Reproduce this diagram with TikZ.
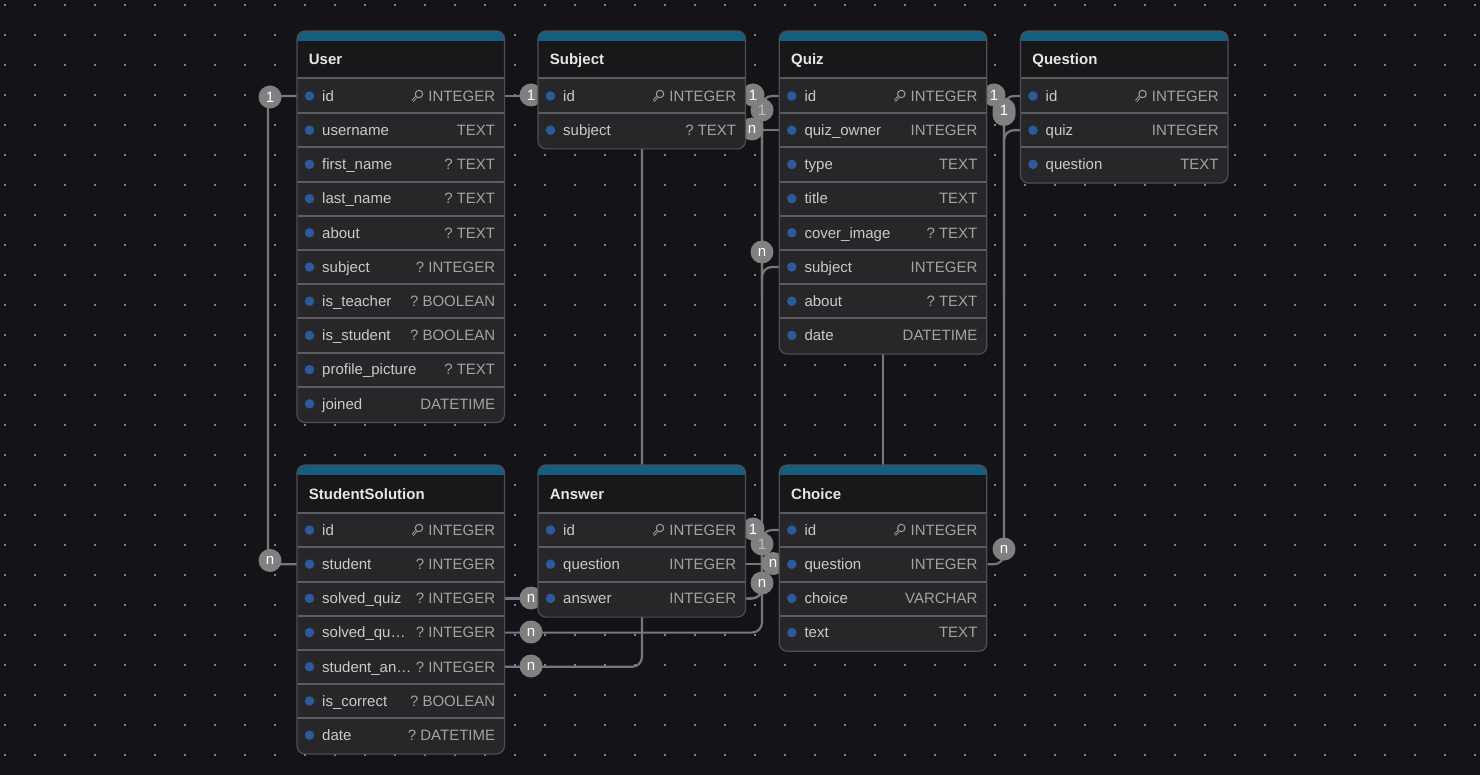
\documentclass[tikz,border=0pt]{standalone}
\usepackage{fontspec}
\setmainfont{Liberation Sans}
\frenchspacing
\pgfdeclarelayer{pagelayer}
\pgfdeclarelayer{edgelayer}
\pgfsetlayers{pagelayer,edgelayer,main}
\definecolor{pagebg}{HTML}{131318}
\definecolor{griddot}{HTML}{5B8DB5}
\definecolor{rowbg}{HTML}{27272A}
\definecolor{titlebg}{HTML}{18181B}
\definecolor{headbg}{HTML}{165E7E}
\definecolor{framec}{HTML}{4E4E53}
\definecolor{sepc}{HTML}{5C5C61}
\definecolor{dotc}{HTML}{2D5A9A}
\definecolor{namec}{HTML}{CACACC}
\definecolor{typec}{HTML}{A3A3A6}
\definecolor{edgec}{HTML}{77777A}
\definecolor{markc}{HTML}{808080}
\definecolor{titlec}{HTML}{E6E6E6}
\definecolor{markfaint}{HTML}{BDBDBD}
\tikzset{
  tablerow/.style={rectangle,inner sep=0pt,minimum width=208pt,minimum height=34.2pt,fill=rowbg},
  tablehead/.style={rectangle,inner sep=0pt,minimum width=208pt,minimum height=10pt,fill=headbg},
  rowdot/.style={circle,inner sep=0pt,minimum size=9.5pt,fill=dotc},
  rowname/.style={anchor=base west,inner sep=0pt,text=namec,font=\fontsize{15}{18}\selectfont},
  rowtype/.style={anchor=base east,inner sep=0pt,text=typec,font=\fontsize{15}{18}\selectfont},
  tabletitle/.style={anchor=base west,inner sep=0pt,text=titlec,font=\fontsize{15}{18}\selectfont\bfseries},
  sepline/.style={draw=sepc,line width=2pt},
  framebox/.style={draw=framec,line width=1.2pt,rounded corners=8pt},
  edgeline/.style={draw=edgec,line width=2.2pt,rounded corners=10pt},
  cardmark/.style={circle,inner sep=0pt,minimum size=23pt,fill=markc,text=white,font=\fontsize{15}{18}\selectfont},
  faintmark/.style={cardmark,text=markfaint},
  keyicon/.style={draw=typec,line width=1pt},
}
% name, x, y, title, rows
\newcommand{\erTable}[5]{%
  \begin{scope}
    \clip[rounded corners=8pt] (#2,#3) rectangle ({#2+207.5},{#3+48+\rowsN*34.2+1.5});
    \fill[titlebg] (#2,#3) rectangle ({#2+207.5},{#3+48});
    \node[tablehead,anchor=north] (#1-head) at ({#2+104},#3) {};
    \fill[rowbg] (#2,{#3+48}) rectangle ({#2+207.5},{#3+48+\rowsN*34.2+1.5});
    \node[tabletitle] (#1-title) at ({#2+11.7},{#3+34}) {#4};
    \foreach \rn/\rt [count=\ri from 1] in {#5}{%
      \pgfmathsetmacro{\cy}{#3+65+34.2*(\ri-1)}
      \node[tablerow] (#1-\ri) at ({#2+104},\cy) {};
    }
    \draw[sepline] (#2,{#3+47.5}) -- ({#2+207.5},{#3+47.5});
    \foreach \rn/\rt [count=\ri from 1] in {#5}{%
      \pgfmathsetmacro{\cy}{#3+65+34.2*(\ri-1)}
      \ifnum\ri<\rowsN \draw[sepline] (#1-\ri.south west) -- (#1-\ri.south east);\fi
      \node[rowdot] (#1-\ri-dot) at ({#2+12.5},\cy) {};
      \node[rowname] (#1-\ri-name) at ({#2+25},{\cy+5.3}) {\rn};
      \node[rowtype] (#1-\ri-type) at ({#2+198.3},{\cy+5.3}) {\rt};
      \ifnum\ri=1
        \draw[keyicon] ({#2+122},{\cy-2}) circle (3.7pt);
        \draw[typec,line width=2.6pt] ({#2+119.4},{\cy+0.6}) -- ({#2+115.6},{\cy+5});
        \draw[rowbg,line width=0.8pt] ({#2+119.4},{\cy+0.6}) -- ({#2+115.6},{\cy+5});
      \fi
    }
  \end{scope}
  \draw[framebox] (#2,#3) rectangle ({#2+207.5},{#3+48+\rowsN*34.2+1.5});
}
\begin{document}
\begin{tikzpicture}[x=1pt,y=-1pt]
\useasboundingbox (0,0) rectangle (1480,775);
\begin{pgfonlayer}{pagelayer}
  \fill[pagebg] (0,0) rectangle (1480,775);
  \foreach \gx in {0,...,49}{\foreach \gy in {0,...,25}{
    \fill[griddot] ({4+30*\gx},{4+30*\gy}) rectangle ({6+30*\gx},{6+30*\gy});
  }}
\end{pgfonlayer}

\def\rowsN{10}
\erTable{User}{297}{31}{User}{id/INTEGER,username/TEXT,first\_name/? TEXT,last\_name/? TEXT,about/? TEXT,subject/? INTEGER,is\_teacher/? BOOLEAN,is\_student/? BOOLEAN,profile\_picture/? TEXT,joined/DATETIME}
\def\rowsN{2}
\erTable{Subject}{538}{31}{Subject}{id/INTEGER,subject/? TEXT}
\def\rowsN{8}
\erTable{Quiz}{779.3}{31}{Quiz}{id/INTEGER,quiz\_owner/INTEGER,type/TEXT,title/TEXT,cover\_image/? TEXT,subject/INTEGER,about/? TEXT,date/DATETIME}
\def\rowsN{3}
\erTable{Question}{1020.5}{31}{Question}{id/INTEGER,quiz/INTEGER,question/TEXT}
\def\rowsN{7}
\erTable{Sol}{297}{465}{StudentSolution}{id/INTEGER,student/? INTEGER,solved\_quiz/? INTEGER,solved\_qu…/? INTEGER,student\_an…/? INTEGER,is\_correct/? BOOLEAN,date/? DATETIME}
\def\rowsN{3}
\erTable{Answer}{538}{465}{Answer}{id/INTEGER,question/INTEGER,answer/INTEGER}
\def\rowsN{4}
\erTable{Choice}{779.3}{465}{Choice}{id/INTEGER,question/INTEGER,choice/VARCHAR,text/TEXT}

\coordinate (busA) at (268,330);
\coordinate (busB) at (762,300);
\coordinate (busC) at (762,560);
\coordinate (busD) at (1004,300);

\begin{pgfonlayer}{edgelayer}
  \draw[edgeline] (User-1.west) -| (busA) |- (Sol-2.west);
  \draw[edgeline] (User-1.east) -- (Subject-1.west);
  \draw[edgeline] (Subject-2.south) |- (Sol-5.east);
  \draw[edgeline] (Subject-1.east) -| (busB) |- (Quiz-6.west);
  \draw[edgeline] (Subject-2.east) -- (Quiz-2.west);
  \draw[edgeline] (Quiz-1.west) -| (busB) |- (Sol-4.east);
  \draw[edgeline] (Quiz-8.south) -- (Choice-head.north);
  \draw[edgeline] (Quiz-1.east) -| (busD) |- (Question-2.west);
  \draw[edgeline] (Question-1.west) -| (busD) |- (Choice-2.east);
  \draw[edgeline] (Sol-3.east) -- (Answer-3.west);
  \draw[edgeline] (Answer-1.east) -| (busC) |- (Answer-3.east);
  \draw[edgeline] (Choice-1.west) -| (busC) |- (Answer-3.east);
  \draw[edgeline] (Answer-2.east) -- (Choice-2.west);

  \node[cardmark] (m1) at (270,97) {1};
  \node[cardmark] (m2) at (270,560.5) {n};
  \node[cardmark] (m3) at (531,95) {1};
  \node[cardmark] (m4) at (531,598) {n};
  \node[cardmark] (m5) at (531,632) {n};
  \node[cardmark] (m6) at (531,666) {n};
  \node[cardmark] (m7) at (753,95) {1};
  \node[cardmark] (m9) at (752,129) {n};
  \node[faintmark] (m8) at (762,110) {1};
  \node[cardmark] (m10) at (762,252) {n};
  \node[cardmark] (m11) at (994,95) {1};
  \node[cardmark,rectangle,rounded corners=11.5pt,minimum width=23pt,minimum height=28pt] (m12) at (1004,112) {\raisebox{3pt}{1}};
  \node[cardmark] (m13) at (1004,549) {n};
  \node[cardmark] (m14) at (753,529) {1};
  \node[cardmark] (m16) at (773,563.5) {n};
  \node[faintmark] (m15) at (762,544) {1};
  \node[cardmark] (m17) at (762,583) {n};
\end{pgfonlayer}
\end{tikzpicture}
\end{document}
